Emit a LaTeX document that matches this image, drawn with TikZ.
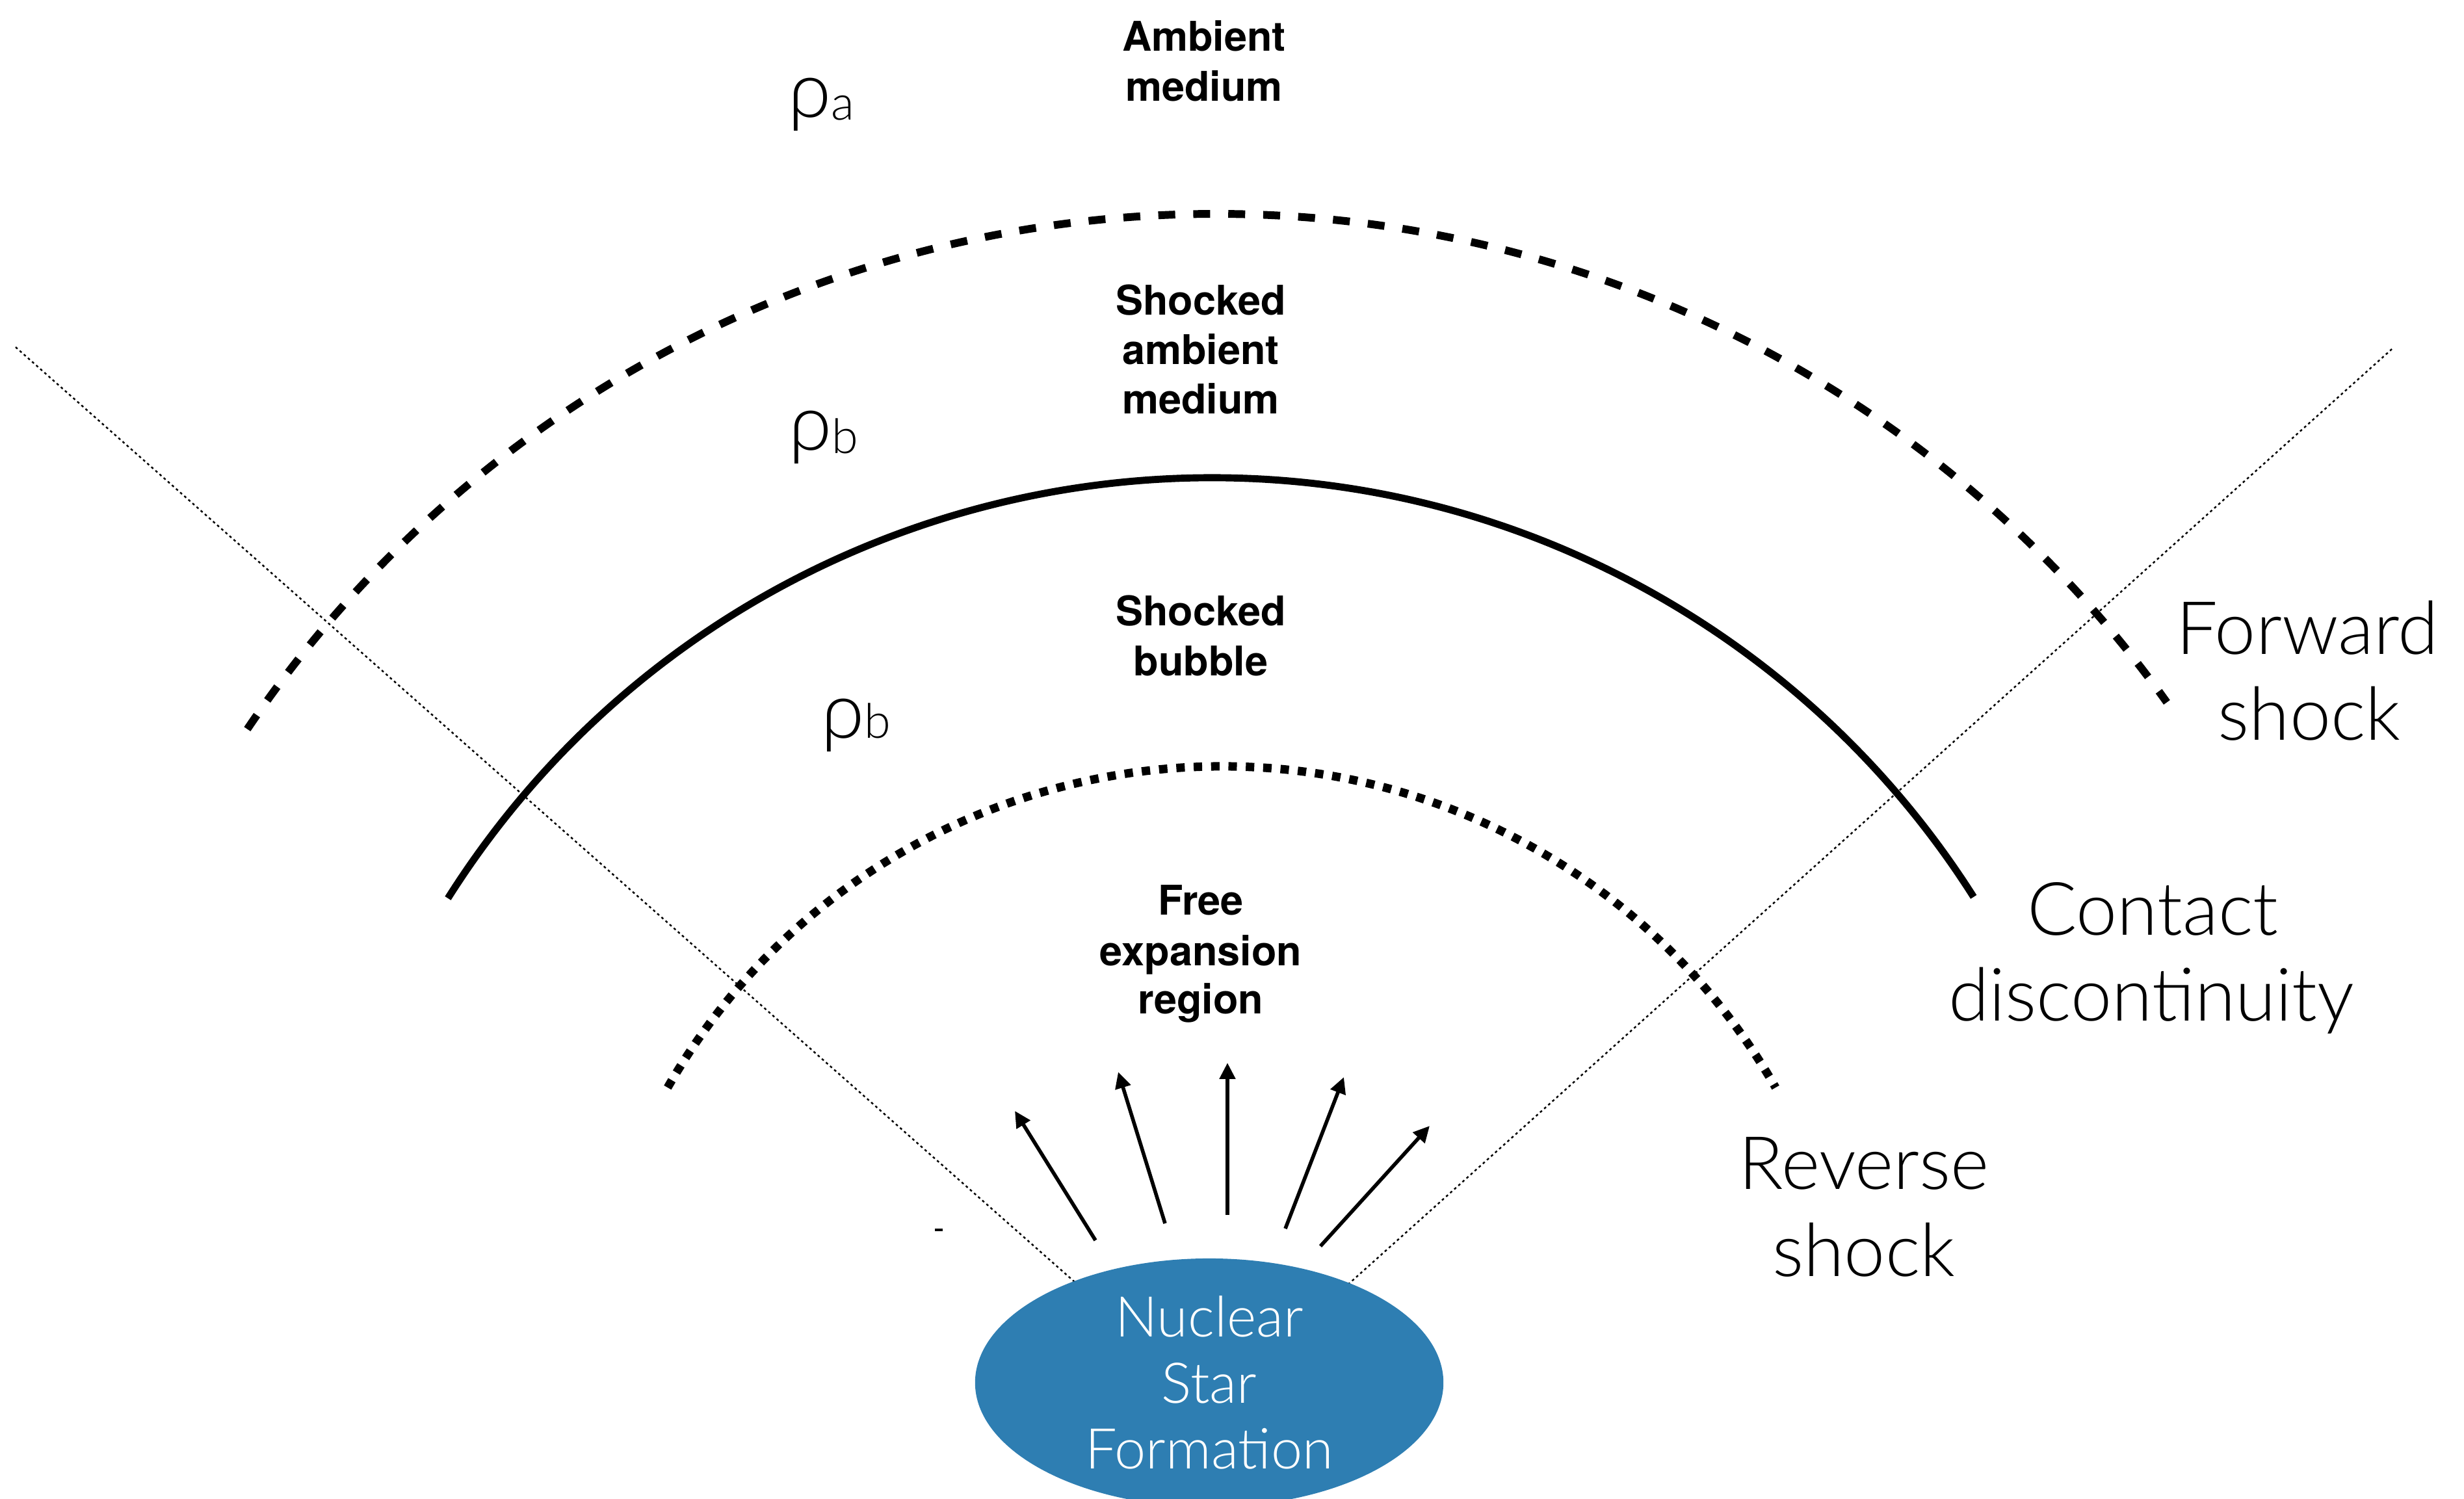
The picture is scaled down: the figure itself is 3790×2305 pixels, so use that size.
\documentclass[tikz,border=0pt]{standalone}
\usepackage{fontspec}
\setmainfont{TeX Gyre Heros}
\newfontfamily\lightfont{Lato Light}
\usetikzlibrary{arrows.meta,shapes.geometric}
\definecolor{nsfblue}{RGB}{46,126,178}

\begin{document}
\begin{tikzpicture}[x=0.01cm,y=-0.01cm,
  regionlbl/.style={font=\bfseries\fontsize{17.9}{21.5}\selectfont, anchor=base, inner sep=0pt},
  shocklbl/.style={font=\lightfont\fontsize{32.2}{37.6}\selectfont, anchor=base, inner sep=0pt},
  denslbl/.style={font=\lightfont\fontsize{34}{40}\selectfont, anchor=base west, inner sep=0pt},
  fwdshock/.style={line width=3.4pt, dash pattern=on 7.4pt off 7.9pt},
  contactline/.style={line width=3.1pt},
  revshock/.style={line width=3.7pt, dash pattern=on 3.7pt off 3.9pt},
  guide/.style={line width=0.7pt, dash pattern=on 1.1pt off 1.3pt},
  outflow/.style={line width=1.6pt, -{Triangle[length=7.1pt,width=6.8pt]}},
]
\useasboundingbox (0,0) rectangle (3790,2305);
\clip (0,0) rectangle (3790,2305);

% centres of the three fronts and the cone apex
\coordinate (fc) at (1871,2127);
\coordinate (cc) at (1863,2124);
\coordinate (rc) at (1879,2161);
\coordinate (apex) at (1867,2161);

% opening-angle guides
\coordinate (gl) at (24,534);
\coordinate (gr) at (3679,537);
\draw[guide] (gl) -- (apex);
\draw[guide] (gr) -- (apex);

% forward shock, contact discontinuity, reverse shock
\draw[fwdshock] (fc) ++(-146.0:1798) arc[start angle=-146.0, end angle=-35.6, radius=1798];
\draw[contactline] (cc) ++(-147.7:1389) arc[start angle=-147.7, end angle=-32.4, radius=1389];
\draw[revshock] (rc) ++(-150.2:982) arc[start angle=-150.2, end angle=-29.8, radius=982];

% central source
\node[ellipse, fill=nsfblue, minimum width=7.2cm, minimum height=3.82cm, inner sep=0pt,
      text=white, align=center, font=\lightfont\fontsize{24.6}{28.8}\selectfont]
      (nsf) at (1860,2127) {Nuclear\\Star\\Formation};

% outflow arrows
\coordinate (t1) at (1685,1908); \coordinate (h1) at (1561,1709);
\coordinate (t2) at (1792,1882); \coordinate (h2) at (1720,1649);
\coordinate (t3) at (1888,1869); \coordinate (h3) at (1888,1635);
\coordinate (t4) at (1977,1890); \coordinate (h4) at (2067,1657);
\coordinate (t5) at (2031,1917); \coordinate (h5) at (2199,1732);
\foreach \i in {1,...,5} \draw[outflow] (t\i) -- (h\i);

% small stray tick
\coordinate (ka) at (1438,1892);
\coordinate (kb) at (1450,1892);
\draw[line width=0.9pt] (ka) -- (kb);

% region labels
\node[regionlbl] (am1) at (1852,78)  {Ambient};
\node[regionlbl] (am2) at (1852,155) {medium};
\node[regionlbl] (sa1) at (1847,484) {Shocked};
\node[regionlbl] (sa2) at (1847,560) {ambient};
\node[regionlbl] (sa3) at (1847,636) {medium};
\node[regionlbl] (sb1) at (1847,962) {Shocked};
\node[regionlbl] (sb2) at (1847,1039) {bubble};
\node[regionlbl] (fe1) at (1847,1407) {Free};
\node[regionlbl] (fe2) at (1847,1485) {expansion};
\node[regionlbl] (fe3) at (1847,1559) {region};

% front labels
\node[shocklbl] (fs1) at (3549,1006) {Forward};
\node[shocklbl] (fs2) at (3552,1138) {shock};
\node[shocklbl] (cd1) at (3311,1438) {Contact};
\node[shocklbl] (cd2) at (3309,1570) {discontinuity};
\node[shocklbl] (rs1) at (2867,1829) {Reverse};
\node[shocklbl] (rs2) at (2867,1963) {shock};

% densities
\node[denslbl] (rhoa)  at (1212,180)  {ρ\raisebox{-1.4pt}{\fontsize{21}{21}\selectfont a}};
\node[denslbl] (rhob1) at (1213,692)  {ρ\raisebox{-1.6pt}{\fontsize{21}{21}\selectfont b}};
\node[denslbl] (rhob2) at (1263,1135) {ρ\raisebox{0pt}{\fontsize{21}{21}\selectfont b}};
\end{tikzpicture}
\end{document}
